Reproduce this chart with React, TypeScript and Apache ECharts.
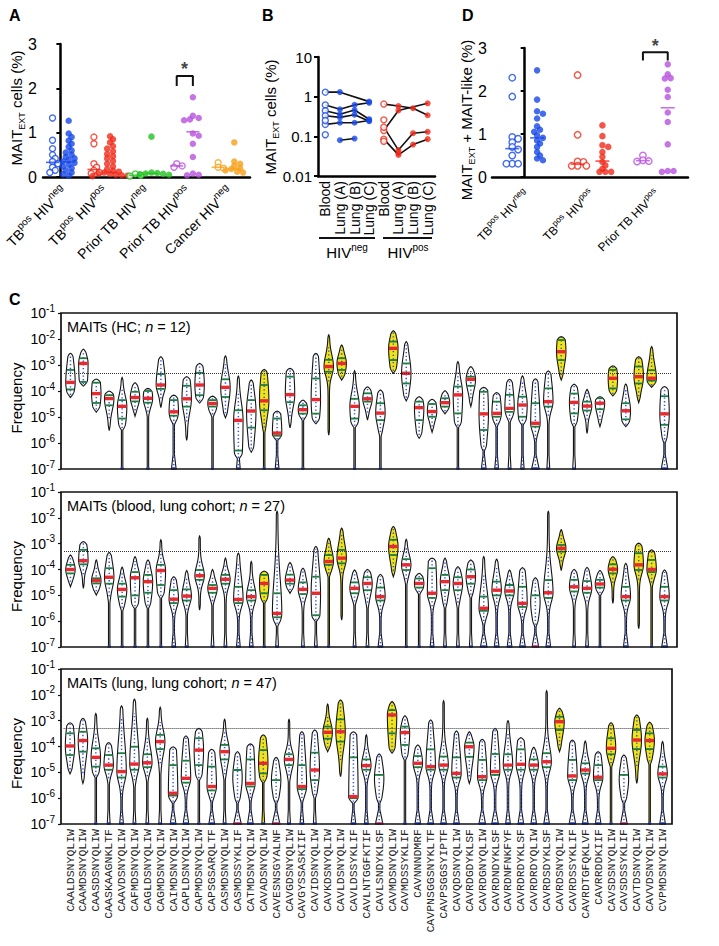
import React, { useEffect, useRef } from "react";
import * as echarts from "echarts";

const SANS = "'Liberation Sans', Arial, Helvetica, sans-serif";
const MONO = "'Liberation Mono', 'DejaVu Sans Mono', monospace";

const BLUE = "#1747e8";
const RED = "#f02a1c";
const GREEN = "#22c21f";
const PURPLE = "#b650de";
const ORANGE = "#f6a019";

// ---------------- Panel A ----------------
const A_GROUPS = ["TBpos HIVneg", "TBpos HIVpos", "Prior TB HIVneg", "Prior TB HIVpos", "Cancer HIVneg"];
const A_LABEL_PARTS = [
  ["TB", "pos", " HIV", "neg"],
  ["TB", "pos", " HIV", "pos"],
  ["Prior TB HIV", "neg"],
  ["Prior TB HIV", "pos"],
  ["Cancer HIV", "neg"],
];
const A_COLORS = [BLUE, RED, GREEN, PURPLE, ORANGE];
const A_OPEN = [
  [1.33, 0.83, 0.64, 0.5, 0.42, 0.35, 0.3, 0.22, 0.15, 0.1],
  [0.9, 0.75, 0.3, 0.22, 0.15, 0.1, 0.08],
  [0.07, 0.04, 0.02],
  [0.3, 0.25, 0.22],
  [0.32, 0.22, 0.2],
];
const A_FILLED = [
  [1.27, 0.98, 0.9, 0.82, 0.75, 0.68, 0.6, 0.55, 0.5, 0.45, 0.42, 0.38, 0.35, 0.32, 0.28, 0.24, 0.2, 0.15, 0.1, 0.06, 0.03],
  [0.92, 0.85, 0.78, 0.7, 0.64, 0.58, 0.52, 0.47, 0.42, 0.36, 0.3, 0.24, 0.18, 0.14, 0.12, 0.1, 0.08, 0.07, 0.05, 0.04, 0.03, 0.02],
  [0.91, 0.1, 0.09, 0.08, 0.07, 0.06, 0.05],
  [1.8, 1.38, 1.33, 1.3, 1.28, 0.98, 0.93, 0.75, 0.45, 0.08, 0.05, 0.04],
  [0.78, 0.35, 0.3, 0.25, 0.2, 0.18, 0.15, 0.12, 0.1],
];
const A_MED_OPEN = [0.33, 0.17, 0.04, 0.25, 0.22];
const A_MED_FILLED = [0.34, 0.1, 0.08, 1.02, 0.18];
const A_SIG = { group: 3, low: 2.05, high: 2.28 };

// ---------------- Panel B ----------------
const B_CATS = ["Blood", "Lung (A)", "Lung (B)", "Lung (C)", "Blood", "Lung (A)", "Lung (B)", "Lung (C)"];
const B_NEG_PATIENTS = [
  [1.3, 1.3, null, 0.75],
  [0.62, 0.48, 0.62, 0.7],
  [0.44, 0.36, 0.46, 0.27],
  [0.33, 0.3, 0.35, 0.24],
  [0.2, 0.22, 0.22, 0.25],
  [null, 0.08, 0.088, null],
];
const B_NEG_UNPAIRED_BLOOD = [0.25, 0.11];
const B_POS_PATIENTS = [
  [0.65, 0.58, 0.51, 0.34],
  [0.14, 0.45, null, 0.68],
  [0.17, 0.045, 0.12, 0.13],
  [0.085, 0.034, 0.062, 0.085],
];
const B_POS_UNPAIRED_BLOOD = [0.26, 0.075];
const B_POS_UNPAIRED_LUNGA = [0.038];

// ---------------- Panel D ----------------
const D_GROUPS = ["TBpos HIVneg", "TBpos HIVpos", "Prior TB HIVpos"];
const D_LABEL_PARTS = [
  ["TB", "pos", " HIV", "neg"],
  ["TB", "pos", " HIV", "pos"],
  ["Prior TB HIV", "pos"],
];
const D_COLORS = [BLUE, RED, PURPLE];
const D_OPEN = [
  [2.31, 1.87, 0.93, 0.89, 0.81, 0.7, 0.64, 0.5, 0.31, 0.31, 0.31],
  [2.37, 0.98, 0.36, 0.35, 0.26, 0.26, 0.26],
  [0.5, 0.39, 0.37, 0.36],
];
const D_FILLED = [
  [2.48, 1.8, 1.53, 1.47, 1.36, 1.18, 1.1, 1.05, 0.97, 0.91, 0.85, 0.78, 0.7, 0.58, 0.5, 0.43, 0.39],
  [1.2, 0.95, 0.74, 0.7, 0.58, 0.47, 0.35, 0.27, 0.19, 0.12, 0.12, 0.12],
  [2.62, 2.39, 2.3, 2.29, 2.03, 1.86, 1.5, 1.28, 0.76, 0.14, 0.12, 0.14],
];
const D_MED_OPEN = [0.66, 0.3, 0.38];
const D_MED_FILLED = [0.91, 0.37, 1.61];
const D_SIG = { group: 2, low: 2.71, high: 2.9 };

// ---------------- Panel C ----------------
const CDR3 = [
  "CAALDSNYQLIW", "CAAMDSNYQLIW", "CAASDSNYQLIW", "CAASKAAGNKLTF", "CAAVDSNYQLIW", "CAFMDSNYQLIW",
  "CAGLDSNYQLIW", "CAGMDSNYQLIW", "CAIMDSNYQLIW", "CAPLDSNYQLIW", "CAPMDSNYQLIW", "CAPSGSARQLTF",
  "CASMDSNYQLIW", "CASMDSSYKLIF", "CATMDSNYQLIW", "CAVADSNYQLIW", "CAVESNSGYALNF", "CAVGDSNYQLIW",
  "CAVGYSSASKIIF", "CAVIDSNYQLIW", "CAVKDSNYQLIW", "CAVLDSNYQLIW", "CAVLDSSYKLIF", "CAVLNTGGFKTIF",
  "CAVLSNDYKLSF", "CAVMDSNYQLIW", "CAVMDSSYKLIF", "CAVNNNDMRF", "CAVPNSGGSNYKLTF", "CAVPSGGSYIPTF",
  "CAVQDSNYQLIW", "CAVRDGDYKLSF", "CAVRDGNYQLIW", "CAVRDNDYKLSF", "CAVRDNFNKFYF", "CAVRDRDYKLSF",
  "CAVRDRDYQLIW", "CAVRDSDYKLSF", "CAVRDSNYQLIW", "CAVRDSSYKLIF", "CAVRDTGFQKLVF", "CAVRRDDKIIF",
  "CAVSDSNYQLIW", "CAVSDSSYKLIF", "CAVTDSNYQLIW", "CAVVDSNYQLIW", "CVPMDSNYQLIW",
];
const PUBLIC_IDX = [15, 20, 21, 25, 38, 42, 44, 45];
const THRESHOLD = 5e-4;
const C_TITLES = [
  ["MAITs (HC; ", "n", " = 12)"],
  ["MAITs (blood, lung cohort; ", "n", " = 27)"],
  ["MAITs (lung, lung cohort; ", "n", " = 47)"],
];
// [top, q3, median, q1, body bottom, foot] in log10(frequency)
const HC_VIOLINS = [
  [-2.55, -3.19, -3.67, -3.94, -4.25, 0], [-2.39, -2.74, -2.94, -3.65, -3.81, 0], [-3.54, -3.68, -4.1, -4.46, -4.81, 0],
  [-4.0, -4.16, -4.29, -4.55, -5.52, 0], [-3.48, -4.35, -4.59, -5.06, -5.5, 0.15], [-3.68, -4.03, -4.25, -4.4, -4.97, 0],
  [-3.9, -4.0, -4.28, -4.45, -5.0, 0.15], [-2.68, -3.35, -3.77, -3.92, -4.64, 0], [-4.16, -4.35, -4.8, -4.95, -5.3, 0.5],
  [-3.45, -3.8, -4.3, -4.6, -5.9, 0], [-2.94, -3.3, -3.77, -4.16, -4.46, 0], [-4.2, -4.35, -4.48, -4.6, -5.0, 0.15],
  [-2.65, -3.55, -3.86, -4.23, -5.03, 0], [-3.43, -4.74, -5.13, -6.29, -6.6, 0.4], [-3.58, -4.35, -4.77, -5.41, -6.35, 0],
  [-3.17, -3.77, -4.38, -4.74, -5.6, 0.15], [-4.77, -5.06, -5.62, -5.72, -5.9, 0.4], [-3.13, -3.45, -4.14, -4.43, -5.42, 0],
  [-4.35, -4.55, -4.72, -4.87, -5.13, 0.15], [-2.55, -3.52, -4.33, -4.87, -5.26, 0], [-1.84, -2.8, -3.06, -3.26, -5.7, 0],
  [-2.23, -2.74, -2.94, -3.19, -3.58, 0], [-3.22, -4.3, -4.59, -5.06, -5.4, 0.15], [-3.84, -4.09, -4.3, -4.41, -5.12, 0],
  [-3.96, -4.47, -4.85, -5.12, -5.76, 0.15], [-1.68, -2.1, -2.36, -2.81, -3.32, 0], [-2.1, -2.94, -3.32, -3.71, -4.38, 0],
  [-4.22, -4.41, -4.64, -5.12, -5.82, 0], [-4.32, -4.5, -4.79, -4.99, -5.59, 0], [-3.99, -4.28, -4.45, -4.6, -4.88, 0],
  [-2.87, -3.83, -4.15, -4.86, -5.4, 0.15], [-3.06, -3.45, -3.55, -3.8, -4.6, 0], [-3.86, -4.03, -4.88, -5.5, -6.3, 0.5],
  [-4.06, -4.41, -4.86, -4.99, -5.37, 0.4], [-3.55, -4.15, -4.67, -4.8, -5.2, 0.3], [-3.42, -4.22, -4.54, -4.99, -5.3, 0.35],
  [-3.53, -4.47, -5.24, -5.37, -6.0, 0.8], [-3.23, -3.9, -4.41, -4.6, -5.3, 0.3], [-1.91, -2.04, -2.49, -2.81, -3.58, 0],
  [-3.74, -4.1, -4.44, -4.86, -5.37, 0.3], [-3.94, -4.41, -4.58, -4.75, -5.63, 0], [-4.22, -4.28, -4.47, -4.7, -5.37, 0],
  [-3.03, -3.19, -3.51, -3.9, -4.19, 0], [-3.73, -4.47, -4.76, -5.09, -5.37, 0], [-2.68, -3.06, -3.45, -3.71, -4.45, 0],
  [-2.29, -3.2, -3.51, -3.6, -3.86, 0], [-3.83, -4.2, -4.88, -5.3, -6.0, 0.7],
];
const BLOOD_VIOLINS = [
  [-3.44, -3.82, -4.0, -4.15, -4.67, 0], [-2.92, -3.24, -3.66, -3.8, -4.73, 0], [-3.63, -4.34, -4.43, -4.54, -4.99, 0],
  [-3.34, -3.95, -4.3, -4.55, -5.31, 0.15], [-3.91, -4.55, -4.77, -5.05, -5.6, 0.15], [-3.5, -4.1, -4.32, -5.0, -5.5, 0.15],
  [-3.63, -4.21, -4.47, -4.9, -5.5, 0.15], [-2.85, -3.82, -4.04, -4.6, -5.1, 0.15], [-4.28, -4.8, -5.15, -5.3, -6.2, 0.4],
  [-4.04, -4.77, -5.03, -5.2, -5.8, 0.3], [-2.7, -4.02, -4.24, -4.4, -5.57, 0], [-4.0, -4.6, -4.73, -4.9, -5.4, 0.3],
  [-3.56, -4.21, -4.38, -4.55, -5.4, 0.3], [-3.37, -4.67, -5.16, -5.3, -6.1, 0.4], [-3.69, -4.8, -5.05, -5.2, -6.0, 0.4],
  [-4.06, -4.21, -4.54, -4.92, -5.3, 0.15], [-1.75, -4.92, -5.7, -5.85, -6.2, 0.3], [-3.73, -4.2, -4.41, -4.55, -4.92, 0],
  [-3.95, -4.5, -4.77, -4.95, -5.8, 0.3], [-3.11, -4.28, -4.92, -5.77, -6.0, 0.3], [-2.79, -3.44, -3.69, -3.82, -4.3, 0.15],
  [-2.4, -3.24, -3.56, -3.76, -5.96, 0], [-4.02, -4.5, -4.73, -4.92, -5.4, 0.3], [-4.0, -4.3, -4.54, -4.8, -5.5, 0.3],
  [-4.19, -4.7, -5.05, -5.2, -6.0, 0.5], [-2.33, -2.85, -3.11, -3.44, -4.28, 0], [-2.83, -3.6, -3.82, -4.02, -4.6, 0.15],
  [-4.15, -4.35, -4.54, -4.7, -4.95, 0.15], [-3.56, -3.95, -4.92, -5.1, -5.83, 0.4], [-3.56, -4.21, -4.47, -4.8, -5.5, 0.3],
  [-3.89, -4.3, -4.54, -4.8, -5.5, 0.3], [-3.63, -4.0, -4.28, -4.55, -5.1, 0.3], [-3.5, -5.05, -5.5, -5.6, -6.2, 0.7],
  [-3.6, -4.47, -4.8, -5.0, -6.1, 0.5], [-4.02, -4.6, -4.83, -5.0, -6.2, 0.5], [-3.93, -4.67, -5.31, -5.45, -6.2, 0.6],
  [-4.32, -5.0, -6.9, -7.0, -6.2, 0.7], [-1.75, -4.41, -4.9, -5.1, -6.1, 0.5], [-2.46, -3.05, -3.18, -3.31, -4.04, 0],
  [-4.0, -4.4, -4.67, -4.85, -5.6, 0.3], [-3.92, -4.45, -4.73, -4.9, -5.7, 0.3], [-4.04, -4.4, -4.56, -4.7, -5.0, 0.15],
  [-3.5, -3.8, -3.99, -4.15, -5.31, 0], [-3.76, -4.67, -5.05, -5.2, -6.2, 0.5], [-2.98, -3.37, -3.82, -4.02, -6.29, 0],
  [-3.24, -3.63, -4.0, -4.1, -4.7, 0.15], [-4.02, -4.67, -5.05, -5.2, -6.2, 0.6],
];
const LUNG_VIOLINS = [
  [-3.08, -3.49, -3.98, -4.33, -5.06, 0], [-2.91, -3.43, -3.77, -4.2, -5.43, 0], [-2.72, -4.07, -4.42, -4.78, -5.2, 0.15],
  [-3.85, -4.33, -4.72, -4.9, -5.5, 0.3], [-2.43, -4.26, -4.97, -5.2, -6.1, 0.4], [-2.17, -4.01, -4.68, -4.9, -5.6, 0.3],
  [-2.91, -4.3, -4.63, -4.8, -5.4, 0.3], [-2.48, -3.55, -3.81, -4.1, -5.1, 0.3], [-4.01, -4.72, -5.81, -5.9, -6.2, 0.6],
  [-3.59, -4.55, -5.23, -5.4, -6.2, 0.6], [-3.3, -3.68, -4.14, -4.72, -5.3, 0.15], [-4.11, -4.78, -5.55, -5.7, -6.2, 0.6],
  [-2.95, -3.94, -4.2, -4.5, -5.3, 0.3], [-4.2, -4.91, -6.9, -7.0, -6.2, 0.8], [-3.9, -4.5, -5.43, -5.55, -6.2, 0.6],
  [-3.55, -4.14, -4.65, -5.04, -5.4, 0.3], [-4.42, -5.3, -6.9, -7.0, -6.2, 0.8], [-2.95, -4.3, -4.5, -4.72, -5.4, 0.3],
  [-3.43, -4.72, -5.55, -5.65, -6.2, 0.4], [-3.36, -4.24, -4.91, -5.3, -6.0, 0.3], [-2.36, -3.23, -3.45, -3.7, -4.2, 0],
  [-2.2, -2.95, -3.43, -3.81, -5.17, 0], [-3.43, -4.42, -5.94, -6.0, -6.2, 0.5], [-3.55, -4.5, -4.74, -4.9, -5.6, 0.4],
  [-4.29, -5.1, -6.9, -7.0, -6.2, 0.8], [-2.26, -2.59, -2.78, -3.49, -4.26, 0], [-2.81, -3.23, -3.46, -3.94, -4.52, 0.15],
  [-3.94, -4.37, -4.65, -4.8, -6.0, 0.6], [-2.97, -4.11, -4.78, -4.9, -6.2, 0.6], [-2.23, -4.39, -4.72, -4.9, -6.0, 0.6],
  [-3.4, -4.42, -5.04, -5.2, -6.2, 0.6], [-3.43, -3.85, -4.01, -4.4, -5.43, 0], [-3.72, -4.52, -5.17, -5.3, -6.2, 0.7],
  [-3.3, -4.29, -4.97, -5.1, -6.2, 0.7], [-3.0, -4.3, -4.72, -4.9, -6.0, 0.5], [-3.66, -4.11, -4.69, -4.9, -6.2, 0.6],
  [-4.03, -4.5, -4.72, -4.9, -6.2, 0.6], [-1.84, -4.26, -4.59, -4.8, -6.2, 0.6], [-2.52, -2.85, -3.04, -3.36, -4.2, 0],
  [-3.75, -4.52, -5.14, -5.3, -6.2, 0.7], [-3.79, -4.65, -4.91, -5.05, -6.2, 0.6], [-4.2, -4.72, -5.19, -5.3, -6.2, 0.6],
  [-3.08, -3.68, -4.07, -4.3, -4.8, 0.15], [-4.33, -5.1, -6.87, -7.0, -6.2, 0.7], [-2.78, -3.36, -3.75, -4.1, -5.43, 0],
  [-3.06, -3.49, -3.77, -4.1, -4.7, 0.15], [-3.81, -4.78, -5.06, -5.2, -6.0, 0.6],
];

// ---------------- helpers ----------------
let measureCtx: CanvasRenderingContext2D | null = null;
function textWidth(t: string, size: number) {
  if (!measureCtx) measureCtx = document.createElement("canvas").getContext("2d");
  if (!measureCtx) return t.length * size * 0.55;
  measureCtx.font = `${size}px ${SANS}`;
  return measureCtx.measureText(t).width;
}

// A label built of plain text pieces inside a rotated group (superscripts raised)
function rotatedLabel(parts: string[], x: number, y: number, big: number, small: number, angle: number) {
  let total = 0;
  const widths = parts.map((p, i) => {
    const w = textWidth(p, i % 2 === 0 ? big : small);
    total += w;
    return w;
  });
  const children: any[] = [];
  let cx = -total;
  parts.forEach((p, i) => {
    const sup = i % 2 === 1;
    children.push({
      type: "text", x: cx, y: sup ? -big * 0.36 : 0,
      style: { text: p, fontSize: sup ? small : big, fontFamily: SANS, fill: "#000", align: "left", verticalAlign: "middle" },
    });
    cx += widths[i];
  });
  return { type: "group", x, y, rotation: angle, children };
}

function swarm(vals: number[], center: number, pxX: number, pxY: number, d: number) {
  const order = vals.map((_, i) => i).sort((a, b) => vals[b] - vals[a]);
  const placed: { x: number; y: number }[] = [];
  const out: number[][] = new Array(vals.length);
  for (const i of order) {
    const y = vals[i] * pxY;
    let x = 0;
    for (let t = 0; t < 60; t++) {
      const off = t === 0 ? 0 : (t % 2 === 1 ? 1 : -1) * Math.ceil(t / 2) * d * 0.45;
      if (placed.every((p) => Math.hypot(p.x - off, p.y - y) >= d * 0.62)) {
        x = off;
        break;
      }
    }
    placed.push({ x, y });
    out[i] = [center + x / pxX, vals[i]];
  }
  return out;
}

const VW = 4.7;
const W0 = 0.7;
function renderViolin(_params: any, api: any) {
  const idx = api.value(0);
  const top = api.value(1), q3 = api.value(2), med = api.value(3), q1 = api.value(4), bot = api.value(5), foot = api.value(6), pub = api.value(7);
  const p0 = api.coord([idx, -7]);
  const p1 = api.coord([idx, -1]);
  const cx = p0[0];
  const py = (v: number) => p0[1] + ((p1[1] - p0[1]) * (v + 7)) / 6;
  const zeroMed = med < bot;
  const c = zeroMed ? (top + bot) / 2 : med;
  const sUp = zeroMed ? (top - bot) / 3 : Math.max(q3 - c, 0.18) * 1.7;
  const sDn = zeroMed ? (top - bot) / 3 : Math.max(c - q1, 0.18) * 1.7;
  const stemW = foot > 0 ? W0 : 0;
  const hw = (y: number) => {
    if (y > top) return 0;
    if (y < bot) {
      if (foot <= 0) return 0;
      const fh = 0.55;
      if (y < -7 + fh) return W0 + (foot * VW - W0) * (1 - (y + 7) / fh);
      return W0;
    }
    const s = y >= c ? sUp : sDn;
    let w = W0 + (VW - W0) * Math.exp(-0.5 * ((y - c) / s) ** 2);
    const tt = Math.min(1, Math.max(0, (top - y) / 0.12));
    w *= Math.sqrt(tt);
    const tb = Math.min(1, Math.max(0, (y - bot) / 0.25));
    const e = tb * (2 - tb);
    return stemW + (w - stemW) * e;
  };
  const yStart = foot > 0 ? -7 : bot;
  const N = Math.max(8, Math.ceil((top - yStart) / 0.025));
  const right: number[][] = [];
  const left: number[][] = [];
  let lo: number | null = null;
  let hi: number | null = null;
  for (let k = 0; k <= N; k++) {
    const y = yStart + ((top - yStart) * k) / N;
    const w = hw(y);
    right.push([cx + w, py(y)]);
    left.push([cx - w, py(y)]);
    if (w >= 1.6) {
      if (lo === null) lo = y;
      hi = y;
    }
  }
  const children: any[] = [
    {
      type: "polygon",
      shape: { points: right.concat(left.reverse()) },
      style: { fill: pub ? "#f2e40f" : "#ffffff", stroke: "#151515", lineWidth: 1.1 },
    },
  ];
  if (lo !== null && hi !== null && hi - lo > 0.05) {
    children.push({
      type: "line",
      shape: { x1: cx, y1: py(lo), x2: cx, y2: py(hi) },
      style: { stroke: "#3552e6", lineWidth: 1.5, lineDash: [1.3, 2.4] },
    });
  }
  const qs = zeroMed ? [q3] : [q3, q1];
  for (const q of qs) {
    if (q <= top && q >= bot) {
      const w = hw(q);
      if (w > 0.9) {
        children.push({
          type: "rect",
          shape: { x: cx - w + 0.4, y: py(q) - 0.9, width: 2 * w - 0.8, height: 1.8 },
          style: { fill: "#1d7c3f" },
        });
      }
    }
  }
  if (!zeroMed) {
    const w = Math.max(hw(med), 1.3);
    children.push({
      type: "rect",
      shape: { x: cx - w + 0.3, y: py(med) - 1.7, width: 2 * w - 0.6, height: 3.4 },
      style: { fill: "#e8292e" },
    });
  }
  if (foot > 0) {
    const w = Math.max(foot * VW, 1.5);
    children.push({
      type: "rect",
      shape: { x: cx - w, y: py(-7) - 1.8, width: 2 * w, height: 2.2 },
      style: { fill: zeroMed ? "#d2317c" : "#3050e6" },
    });
  }
  return { type: "group", children };
}

function violinData(rows: number[][]) {
  return rows.map((r, i) => [i, ...r, PUBLIC_IDX.includes(i) ? 1 : 0]);
}

const richPow = {
  b: { fontSize: 14, lineHeight: 20, fontFamily: SANS, color: "#000" },
  s: { fontSize: 10, lineHeight: 10, verticalAlign: "top", fontFamily: SANS, color: "#000" },
};

export default function App() {
  const ref = useRef<HTMLDivElement>(null);
  useEffect(() => {
    if (!ref.current) return;
    const chart = echarts.init(ref.current, undefined, { renderer: "svg" });

    const series: any[] = [];
    // ---- Panel A ----
    const aPxX = 207 / 5.0, aPxY = 133 / 3;
    A_GROUPS.forEach((_, k) => {
      const col = A_COLORS[k];
      series.push({
        type: "scatter", xAxisIndex: 0, yAxisIndex: 0, z: 3, symbolSize: 6,
        data: swarm(A_OPEN[k], k - 0.19, aPxX, aPxY, 6),
        itemStyle: { color: "#fff", borderColor: col, borderWidth: 1.4 },
      });
      series.push({
        type: "scatter", xAxisIndex: 0, yAxisIndex: 0, z: 3, symbolSize: 6.5,
        data: swarm(A_FILLED[k], k + 0.2, aPxX, aPxY, 6.5),
        itemStyle: { color: col },
      });
      series.push({
        type: "scatter", xAxisIndex: 0, yAxisIndex: 0, z: 4, symbol: "rect", symbolSize: [13, 1.6],
        data: [[k - 0.19, A_MED_OPEN[k]], [k + 0.2, A_MED_FILLED[k]]],
        itemStyle: { color: col },
      });
    });
    series.push({
      type: "line", xAxisIndex: 0, yAxisIndex: 0, symbol: "none", z: 5,
      data: [[A_SIG.group - 0.19, A_SIG.low], [A_SIG.group - 0.19, A_SIG.high], [A_SIG.group + 0.2, A_SIG.high], [A_SIG.group + 0.2, A_SIG.low]],
      lineStyle: { color: "#111", width: 2 },
    });
    series.push({
      type: "scatter", xAxisIndex: 0, yAxisIndex: 0, symbolSize: 1, z: 5,
      data: [[A_SIG.group, A_SIG.high]],
      itemStyle: { color: "rgba(0,0,0,0)" },
      label: { show: true, position: "top", distance: -3, formatter: "*", fontSize: 18, fontWeight: "bold", color: "#111", fontFamily: SANS },
    });

    // ---- Panel B ----
    const bLine = (rows: (number | null)[][], offset: number) =>
      rows.forEach((row) => {
        const data = row.map((v, j) => (v == null ? null : [j + offset, v])).filter((d) => d !== null);
        series.push({ type: "line", xAxisIndex: 2, yAxisIndex: 1, symbol: "none", z: 2, data, lineStyle: { color: "#111", width: 1.6 } });
      });
    bLine(B_NEG_PATIENTS, 0);
    bLine(B_POS_PATIENTS, 4);
    const bPoints = (rows: (number | null)[][], offset: number, extraBlood: number[], extraA: number[], col: string) => {
      const open: number[][] = [];
      const filled: number[][] = [];
      rows.forEach((row) => row.forEach((v, j) => { if (v != null) (j === 0 ? open : filled).push([j + offset, v]); }));
      extraBlood.forEach((v) => open.push([offset, v]));
      extraA.forEach((v) => filled.push([offset + 1, v]));
      series.push({ type: "scatter", xAxisIndex: 2, yAxisIndex: 1, z: 3, symbolSize: 6, data: open, itemStyle: { color: "#fff", borderColor: col, borderWidth: 1.4 } });
      series.push({ type: "scatter", xAxisIndex: 2, yAxisIndex: 1, z: 3, symbolSize: 6, data: filled, itemStyle: { color: col } });
    };
    bPoints(B_NEG_PATIENTS, 0, B_NEG_UNPAIRED_BLOOD, [], BLUE);
    bPoints(B_POS_PATIENTS, 4, B_POS_UNPAIRED_BLOOD, B_POS_UNPAIRED_LUNGA, RED);

    // ---- Panel D ----
    const dPxX = 196 / 3, dPxY = 129 / 3;
    D_GROUPS.forEach((_, k) => {
      const col = D_COLORS[k];
      series.push({
        type: "scatter", xAxisIndex: 3, yAxisIndex: 2, z: 3, symbolSize: 6.5,
        data: swarm(D_OPEN[k], k - 0.19, dPxX, dPxY, 6.5),
        itemStyle: { color: "#fff", borderColor: col, borderWidth: 1.4 },
      });
      series.push({
        type: "scatter", xAxisIndex: 3, yAxisIndex: 2, z: 3, symbolSize: 6.5,
        data: swarm(D_FILLED[k], k + 0.19, dPxX, dPxY, 6.5),
        itemStyle: { color: col },
      });
      series.push({
        type: "scatter", xAxisIndex: 3, yAxisIndex: 2, z: 4, symbol: "rect", symbolSize: [14, 1.6],
        data: [[k - 0.19, D_MED_OPEN[k]], [k + 0.19, D_MED_FILLED[k]]],
        itemStyle: { color: col },
      });
    });
    series.push({
      type: "line", xAxisIndex: 3, yAxisIndex: 2, symbol: "none", z: 5,
      data: [[D_SIG.group - 0.19, D_SIG.low], [D_SIG.group - 0.19, D_SIG.high], [D_SIG.group + 0.19, D_SIG.high], [D_SIG.group + 0.19, D_SIG.low]],
      lineStyle: { color: "#111", width: 2 },
    });
    series.push({
      type: "scatter", xAxisIndex: 3, yAxisIndex: 2, symbolSize: 1, z: 5,
      data: [[D_SIG.group, D_SIG.high]],
      itemStyle: { color: "rgba(0,0,0,0)" },
      label: { show: true, position: "top", distance: -3, formatter: "*", fontSize: 18, fontWeight: "bold", color: "#111", fontFamily: SANS },
    });

    // ---- Panel C ----
    const violinSets = [HC_VIOLINS, BLOOD_VIOLINS, LUNG_VIOLINS];
    violinSets.forEach((rows, p) => {
      series.push({
        type: "line", xAxisIndex: 5 + p, yAxisIndex: 3 + p, data: [], z: 1,
        markLine: {
          silent: true, symbol: ["none", "none"], label: { show: false },
          lineStyle: { type: "dotted", color: "#333", width: 1 },
          data: [{ yAxis: Math.log10(THRESHOLD) }],
        },
      });
      series.push({
        type: "custom", xAxisIndex: 5 + p, yAxisIndex: 3 + p, z: 3,
        renderItem: renderViolin, data: violinData(rows), encode: { x: 0, y: 1 },
      });
    });

    const cGrids = [
      { left: 64, top: 313, width: 607, height: 156 },
      { left: 64, top: 492, width: 607, height: 155 },
      { left: 63.6, top: 669, width: 605.4, height: 155 },
    ];
    const frames = [
      { x: 61, y: 313, w: 616, h: 156 },
      { x: 61, y: 492, w: 616, h: 155 },
      { x: 61, y: 669, w: 611, h: 155 },
    ];

    const yNameRich = {
      m: { fontSize: 15, lineHeight: 20, fontFamily: SANS, fill: "#000" },
      sub: { fontSize: 9, lineHeight: 9, verticalAlign: "bottom", fontFamily: SANS, fill: "#000" },
    };
    const graphic: any[] = [];
    const letter = (t: string, x: number, y: number) =>
      graphic.push({ type: "text", x, y, style: { text: t, fontSize: 16, fontWeight: "bold", fontFamily: SANS, fill: "#000", align: "left", verticalAlign: "top" } });
    letter("A", 9, 7);
    letter("B", 262, 7);
    letter("D", 462, 7);
    letter("C", 9, 291);
    const yName = (text: string, x: number, y: number) =>
      graphic.push({ type: "text", x, y, rotation: Math.PI / 2, style: { text, rich: yNameRich, fill: "#000", align: "center", verticalAlign: "middle" } });
    yName("{m|MAIT}{sub|EXT}{m| cells (%)}", 16, 108);
    yName("{m|MAIT}{sub|EXT}{m| cells (%)}", 270, 117);
    yName("{m|MAIT}{sub|EXT}{m| + MAIT-like (%)}", 466, 120);
    frames.forEach((f, p) => {
      graphic.push({ type: "rect", shape: { x: f.x, y: f.y, width: f.w, height: f.h }, style: { fill: "none", stroke: "#111", lineWidth: 1.7 }, z: 10 });
      graphic.push({ type: "text", x: 16, y: f.y + f.h / 2 + 7, rotation: Math.PI / 2, style: { text: "Frequency", fontSize: 15, fontFamily: SANS, fill: "#000", align: "center", verticalAlign: "middle" } });
      const t = C_TITLES[p];
      graphic.push({
        type: "text", x: 67, y: f.y + 14,
        style: {
          text: `{t|${t[0]}}{i|${t[1]}}{t|${t[2]}}`,
          rich: {
            t: { fontSize: 14.5, fontFamily: SANS, fill: "#000" },
            i: { fontSize: 14.5, fontFamily: SANS, fontStyle: "italic", fill: "#000" },
          },
          align: "left", verticalAlign: "middle",
        },
      });
    });
    // Panel B group bars
    graphic.push({ type: "line", shape: { x1: 319, y1: 238, x2: 375, y2: 238 }, style: { stroke: "#111", lineWidth: 2 } });
    graphic.push({ type: "line", shape: { x1: 383, y1: 238, x2: 432, y2: 238 }, style: { stroke: "#111", lineWidth: 2 } });
    const grpRich = {
      n: { fontSize: 15, lineHeight: 20, fontFamily: SANS, fill: "#000" },
      s: { fontSize: 10, lineHeight: 10, verticalAlign: "top", fontFamily: SANS, fill: "#000" },
    };
    graphic.push({ type: "text", x: 347, y: 252, style: { text: "{n|HIV}{s|neg}", rich: grpRich, align: "center", verticalAlign: "middle" } });
    graphic.push({ type: "text", x: 408, y: 252, style: { text: "{n|HIV}{s|pos}", rich: grpRich, align: "center", verticalAlign: "middle" } });

    const thickLine = { show: true, lineStyle: { color: "#000", width: 2.5 } };
    const yTick = { show: true, length: 4, lineStyle: { color: "#000", width: 2 } };

    const option: any = {
      animation: false,
      textStyle: { fontFamily: SANS },
      graphic,
      grid: [
        { left: 43, top: 44, width: 207, height: 133 },
        { left: 318, top: 57, width: 117, height: 119 },
        { left: 492, top: 48, width: 196, height: 129 },
        ...cGrids,
      ],
      xAxis: [
        { gridIndex: 0, type: "value", position: "bottom", min: -0.42, max: 4.58, axisLine: thickLine, axisTick: { show: false }, axisLabel: { show: false }, splitLine: { show: false } },
        {
          gridIndex: 0, type: "category", position: "bottom", data: A_GROUPS, axisLine: { show: false }, axisTick: { show: false },
          axisLabel: { show: false },
        },
        {
          gridIndex: 1, type: "category", data: B_CATS, axisLine: thickLine, axisTick: { show: false },
          axisLabel: { interval: 0, rotate: 90, margin: 5, fontSize: 14, color: "#000", fontFamily: SANS },
        },
        { gridIndex: 2, type: "value", position: "bottom", min: -0.5, max: 2.5, axisLine: thickLine, axisTick: { show: false }, axisLabel: { show: false }, splitLine: { show: false } },
        {
          gridIndex: 2, type: "category", position: "bottom", data: D_GROUPS, axisLine: { show: false }, axisTick: { show: false },
          axisLabel: { show: false },
        },
        ...[0, 1, 2].map((p) => ({
          gridIndex: 3 + p, type: "category", data: CDR3, boundaryGap: true,
          axisLine: { show: false }, axisTick: { show: false },
          axisLabel: p === 2
            ? { show: true, interval: 0, rotate: 90, margin: 5, fontSize: 11.5, fontFamily: MONO, color: "#222", hideOverlap: false }
            : { show: false },
        })),
      ],
      yAxis: [
        {
          gridIndex: 0, type: "value", min: 0, max: 3, interval: 1, axisLine: thickLine, axisTick: yTick, splitLine: { show: false },
          axisLabel: { fontSize: 16, color: "#000", margin: 6 },
        },
        {
          gridIndex: 1, type: "log", logBase: 10, min: 0.01, max: 10, axisLine: thickLine, axisTick: yTick, splitLine: { show: false },
          minorTick: { show: false },
          axisLabel: { fontSize: 15, color: "#000", margin: 6, formatter: (v: number) => (v >= 1 ? String(Math.round(v)) : String(+v.toPrecision(1))) },
        },
        {
          gridIndex: 2, type: "value", min: 0, max: 3, interval: 1, axisLine: thickLine, axisTick: yTick, splitLine: { show: false },
          axisLabel: { fontSize: 16, color: "#000", margin: 5 },
        },
        ...[0, 1, 2].map((p) => ({
          gridIndex: 3 + p, type: "value", min: -7, max: -1, interval: 1, offset: p === 2 ? 2.6 : 3,
          axisLine: { show: false }, axisTick: { show: true, length: 3, lineStyle: { color: "#111", width: 1.2 } },
          splitLine: { show: false },
          axisLabel: { margin: 6, formatter: (v: number) => `{b|10}{s|${v}}`, rich: richPow },
        })),
      ],
      series,
    };
    chart.setOption(option);
    // Group labels of panels A and D, anchored through each panel's value axis
    const extra: any[] = [];
    A_GROUPS.forEach((_, k) => {
      const pt = chart.convertToPixel({ xAxisIndex: 0, yAxisIndex: 0 }, [k, 0]) as number[];
      extra.push(rotatedLabel(A_LABEL_PARTS[k], pt[0] + 4, pt[1] + 12, 14, 10, Math.PI / 4));
    });
    D_GROUPS.forEach((_, k) => {
      const pt = chart.convertToPixel({ xAxisIndex: 3, yAxisIndex: 2 }, [k, 0]) as number[];
      extra.push(rotatedLabel(D_LABEL_PARTS[k], pt[0] + 2, pt[1] + 15, 12, 8.5, Math.PI / 4));
    });
    option.graphic = graphic.concat(extra);
    chart.setOption(option, true);
    return () => chart.dispose();
  }, []);
  return <div ref={ref} style={{ position: "absolute", left: 0, top: 0, width: 719, height: 946, background: "#fff" }} />;
}
